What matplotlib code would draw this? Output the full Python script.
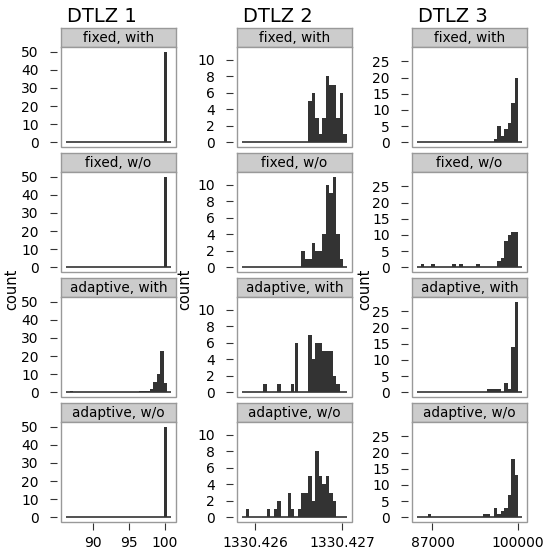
import numpy as np
import matplotlib
matplotlib.use('Agg')
import matplotlib.pyplot as plt
from matplotlib.patches import Rectangle

plt.rcParams['font.family'] = 'DejaVu Sans'

titles = ['DTLZ 1', 'DTLZ 2', 'DTLZ 3']
strips = ['fixed, with', 'fixed, w/o', 'adaptive, with', 'adaptive, w/o']

# histogram ranges (30 bins each)
ranges = [(86.35, 100.81), (1330.425852, 1330.427057), (84681, 100557)]

# DTLZ 1 counts per bin
d1_fixed_with = [0, 0, 0, 0, 0, 0, 0, 0, 0, 0, 0, 0, 0, 0, 0, 0, 0, 0, 0, 0, 0, 0, 0, 0, 0, 0, 0, 0, 50, 0]
d1_fixed_wo = [0, 0, 0, 0, 0, 0, 0, 0, 0, 0, 0, 0, 0, 0, 0, 0, 0, 0, 0, 0, 0, 0, 0, 0, 0, 0, 0, 0, 50, 0]
d1_adapt_with = [0, 1, 0, 0, 0, 0, 0, 0, 0, 0, 0, 0, 0, 0, 0, 0, 0, 0, 0, 0, 0, 1, 1, 1, 2, 6, 10, 23, 5, 0]
d1_adapt_wo = [0, 0, 0, 0, 0, 0, 0, 0, 0, 0, 0, 0, 0, 0, 0, 0, 0, 0, 0, 0, 0, 0, 0, 0, 0, 0, 0, 0, 50, 0]

# DTLZ 2 counts per bin
d2_fixed_with = [0, 0, 0, 0, 0, 0, 0, 0, 0, 0, 0, 0, 0, 0, 0, 0, 0, 0, 0, 5, 6, 3, 1, 3, 8, 7, 7, 3, 6, 1]
d2_fixed_wo = [0, 0, 0, 0, 0, 0, 0, 0, 0, 0, 0, 0, 0, 0, 0, 0, 0, 2, 1, 1, 3, 2, 2, 4, 10, 9, 11, 4, 1, 0]
d2_adapt_with = [0, 0, 0, 0, 0, 0, 1, 0, 0, 0, 1, 0, 0, 0, 1, 6, 0, 0, 0, 7, 4, 6, 6, 5, 5, 5, 2, 1, 0, 0]
d2_adapt_wo = [0, 1, 0, 0, 0, 0, 0, 1, 0, 1, 2, 0, 0, 3, 1, 0, 1, 3, 3, 5, 2, 8, 5, 4, 5, 3, 2, 0, 0, 0]

# DTLZ 3 counts per bin
d3_fixed_with = [0, 0, 0, 0, 0, 0, 0, 0, 0, 0, 0, 0, 0, 0, 0, 0, 0, 0, 0, 0, 0, 0, 1, 5, 2, 4, 6, 12, 20, 0]
d3_fixed_wo = [0, 1, 0, 0, 1, 0, 0, 0, 0, 0, 1, 0, 1, 0, 0, 0, 0, 1, 0, 0, 0, 0, 0, 2, 3, 8, 10, 11, 11, 0]
d3_adapt_with = [0, 0, 0, 0, 0, 0, 0, 0, 0, 0, 0, 0, 0, 0, 0, 0, 0, 0, 0, 0, 1, 1, 1, 1, 0, 3, 1, 14, 28, 0]
d3_adapt_wo = [0, 0, 0, 1, 0, 0, 0, 0, 0, 0, 0, 0, 0, 0, 0, 0, 0, 0, 0, 1, 1, 0, 3, 1, 2, 3, 7, 18, 13, 0]

counts = [
    [d1_fixed_with, d1_fixed_wo, d1_adapt_with, d1_adapt_wo],
    [d2_fixed_with, d2_fixed_wo, d2_adapt_with, d2_adapt_wo],
    [d3_fixed_with, d3_fixed_wo, d3_adapt_with, d3_adapt_wo],
]

yticks = [[0, 10, 20, 30, 40, 50], [0, 2, 4, 6, 8, 10], [0, 5, 10, 15, 20, 25]]
xticks = [[90, 95, 100], [1330.426, 1330.427], [87000, 100000]]
xticklabels = [['90', '95', '100'], ['1330.426', '1330.427'], ['87000', '100000']]

W, H = 547, 550
fig = plt.figure(figsize=(W / 100, H / 100), dpi=100)

panel_left = [61, 237, 412]
panel_w = 115
strip_h = 19
panel_h = 100
row_top = [28, 153, 278, 403]

bar_color = '#333333'
border = '#999999'

for c in range(3):
    lo, hi = ranges[c]
    edges = np.linspace(lo, hi, 31)
    width = edges[1] - edges[0]
    centers = edges[:-1] + width / 2
    ymax = max(max(r) for r in counts[c])
    xpad = (hi - lo) * 0.05
    for r in range(4):
        top = row_top[r]
        # strip
        sax = fig.add_axes([panel_left[c] / W, 1 - (top + strip_h) / H, panel_w / W, strip_h / H])
        sax.set_facecolor('#CCCCCC')
        sax.set_xticks([])
        sax.set_yticks([])
        for s in sax.spines.values():
            s.set_color(border)
            s.set_linewidth(1)
        sax.text(0.5, 0.45, strips[r], ha='center', va='center', fontsize=9.8, transform=sax.transAxes)

        ax = fig.add_axes([panel_left[c] / W, 1 - (top + strip_h + panel_h) / H, panel_w / W, panel_h / H])
        ax.bar(centers, counts[c][r], width=width, color=bar_color, linewidth=0)
        ax.hlines(0, lo, hi, color=bar_color, linewidth=1.2)
        ax.set_xlim(lo - xpad, hi + xpad)
        ax.set_ylim(-0.05 * ymax, 1.05 * ymax)
        for s in ax.spines.values():
            s.set_visible(False)
        ax.spines['left'].set_position(('outward', 3))
        ax.spines['bottom'].set_position(('outward', 1))
        ax.add_patch(Rectangle((0, 0), 1, 1, transform=ax.transAxes, fill=False,
                               edgecolor=border, linewidth=1, clip_on=False))
        ax.set_yticks(yticks[c])
        ax.tick_params(axis='y', length=5, width=0.8, color='#333333', pad=8, labelsize=10)
        if r == 3:
            ax.set_xticks(xticks[c])
            ax.set_xticklabels(xticklabels[c])
            ax.tick_params(axis='x', length=5, width=0.8, color='#333333', pad=4, labelsize=10)
        else:
            ax.set_xticks([])

for c in range(3):
    fig.text((panel_left[c] + 6) / W, 1 - 22 / H, titles[c], fontsize=14)

for xc in [12, 185, 365]:
    fig.text(xc / W, 1 - 289 / H, 'count', rotation=90, ha='center', va='center', fontsize=10.5)

fig.savefig('out.png', dpi=100)
